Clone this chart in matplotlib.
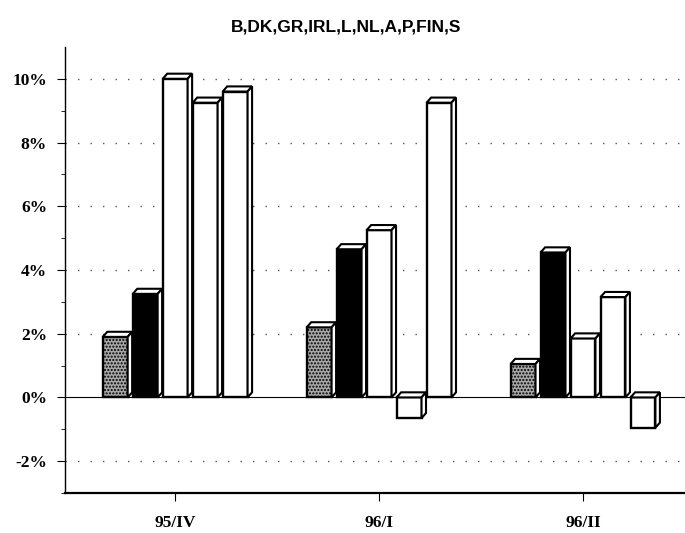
import numpy as np
import matplotlib.pyplot as plt
from matplotlib.patches import Polygon

periods = ["95/IV", "96/I", "96/II"]
# five series per period, in % (first stippled, second black, rest white)
s1 = [1.9, 2.2, 1.05]
s2 = [3.25, 4.65, 4.55]
s3 = [10.0, 5.25, 1.85]
s4 = [9.25, -0.65, 3.15]
s5 = [9.6, 9.25, -0.95]
series = [s1, s2, s3, s4, s5]
faces = ["#a8a8a8", "black", "white", "white", "white"]
hatches = [".....", None, None, None, None]
ticks = [-2, 0, 2, 4, 6, 8, 10]

fig = plt.figure(figsize=(6.85, 5.33), dpi=100)
ax = fig.add_axes([0.095, 0.075, 0.905, 0.837])

x = np.arange(len(periods))
width = 0.122
step = 0.147
dx, dy = 0.022, 0.16

# dotted grid
for t in ticks:
    if t != 0:
        ax.axhline(t, color="#555555", lw=1.0, ls=(0, (1, 8)), zorder=0)
ax.axhline(0, color="black", lw=0.8, zorder=1)

for i, (vals, fc, h) in enumerate(zip(series, faces, hatches)):
    pos = x + (i - 2) * step
    bars = ax.bar(pos, vals, width, color=fc, edgecolor="black", lw=1.7,
                  hatch=h, zorder=3 + i)
    for b in bars:
        x0 = b.get_x()
        x1 = x0 + b.get_width()
        top = max(b.get_height(), 0)
        bot = min(b.get_height(), 0)
        # top face
        ax.add_patch(Polygon([(x0, top), (x1, top), (x1 + dx, top + dy),
                              (x0 + dx, top + dy)], closed=True,
                             facecolor="white", edgecolor="black", lw=1.5,
                             zorder=3 + i))
        # side face
        ax.add_patch(Polygon([(x1, bot), (x1 + dx, bot + dy), (x1 + dx, top + dy),
                              (x1, top)], closed=True, facecolor="white",
                             edgecolor="black", lw=1.5, zorder=3 + i))

ax.set_xlim(-0.54, 2.50)
ax.set_ylim(-3, 11)
ax.set_yticks(ticks)
ax.set_yticks(np.arange(-3, 11, 1), minor=True)
ax.set_yticklabels([f"{t}%" for t in ticks], fontfamily="Liberation Serif",
                   fontsize=12.5, fontweight="bold")
ax.set_xticks(x)
ax.set_xticklabels(periods, fontfamily="Liberation Serif", fontsize=12.5,
                   fontweight="bold")
ax.tick_params(axis="x", length=6, pad=10, direction="out")
ax.tick_params(axis="y", which="major", length=6, pad=7)
ax.tick_params(axis="y", which="minor", length=3)
ax.spines["top"].set_visible(False)
ax.spines["right"].set_visible(False)
ax.spines["bottom"].set_linewidth(1.6)
ax.spines["left"].set_linewidth(1.0)

fig.suptitle("B,DK,GR,IRL,L,NL,A,P,FIN,S", x=0.505, y=0.963,
             fontfamily="Liberation Sans", fontsize=12.5, fontweight="bold")

fig.savefig("out.png", dpi=100)
